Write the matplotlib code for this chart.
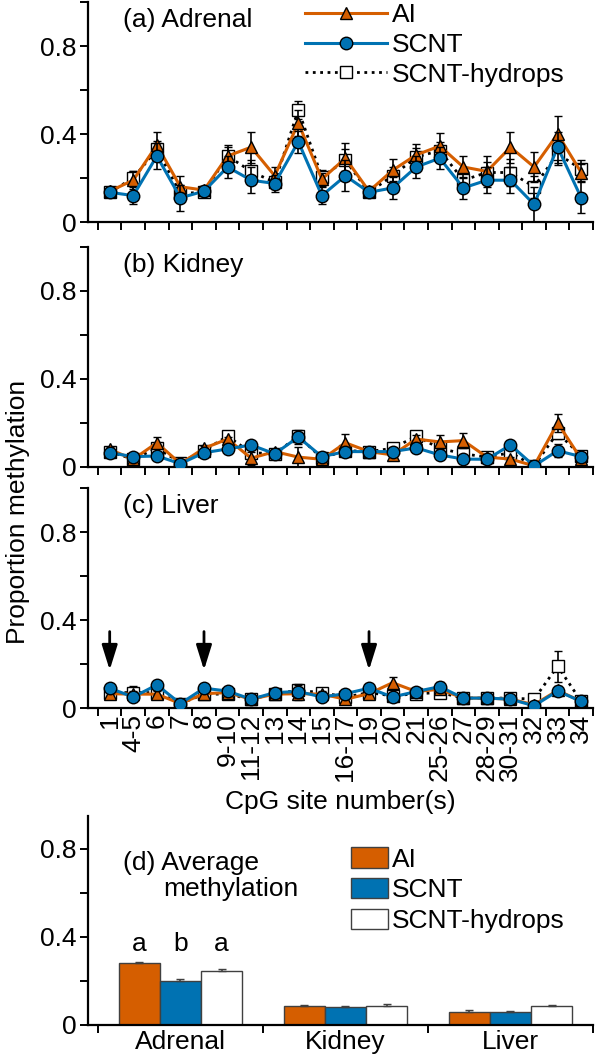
import numpy as np
import matplotlib
matplotlib.use('Agg')
import matplotlib.pyplot as plt
from matplotlib.patches import Patch
from matplotlib.lines import Line2D

plt.rcParams['font.family'] = ['Liberation Sans', 'DejaVu Sans']
plt.rcParams['font.size'] = 19

# CpG sites
sites = ['1', '4-5', '6', '7', '8', '9-10', '11-12', '13', '14', '15', '16-17',
         '19', '20', '21', '25-26', '27', '28-29', '30-31', '32', '33', '34']

# (a) Adrenal
ai_a = [0.14, 0.19, 0.35, 0.16, 0.145, 0.30, 0.34, 0.21, 0.45, 0.195, 0.29,
        0.14, 0.235, 0.305, 0.345, 0.25, 0.23, 0.34, 0.25, 0.40, 0.225]
scnt_a = [0.135, 0.12, 0.30, 0.11, 0.14, 0.25, 0.19, 0.175, 0.365, 0.12, 0.21,
          0.135, 0.155, 0.25, 0.29, 0.155, 0.19, 0.19, 0.08, 0.34, 0.11]
hyd_a = [0.135, 0.20, 0.33, 0.13, 0.135, 0.30, 0.23, 0.18, 0.51, 0.205, 0.28,
         0.135, 0.21, 0.295, 0.325, 0.19, 0.225, 0.225, 0.16, 0.31, 0.24]
ai_a_err = [0.02, 0.04, 0.06, 0.05, 0.02, 0.05, 0.07, 0.04, 0.06, 0.03, 0.07,
            0.015, 0.05, 0.05, 0.06, 0.05, 0.07, 0.07, 0.07, 0.08, 0.04]
scnt_a_err = [0.02, 0.04, 0.06, 0.06, 0.02, 0.05, 0.06, 0.04, 0.05, 0.04, 0.07,
              0.015, 0.05, 0.05, 0.05, 0.05, 0.06, 0.06, 0.08, 0.07, 0.07]
hyd_a_err = [0.02, 0.03, 0.04, 0.04, 0.02, 0.04, 0.05, 0.03, 0.04, 0.03, 0.05,
             0.015, 0.04, 0.04, 0.04, 0.04, 0.05, 0.06, 0.05, 0.05, 0.04]

# (b) Kidney
ai_b = [0.08, 0.035, 0.11, 0.015, 0.085, 0.127, 0.04, 0.07, 0.045, 0.035, 0.11,
        0.07, 0.055, 0.127, 0.114, 0.12, 0.045, 0.036, 0.005, 0.20, 0.036]
scnt_b = [0.065, 0.047, 0.05, 0.015, 0.065, 0.082, 0.10, 0.06, 0.136, 0.047, 0.07,
          0.07, 0.07, 0.087, 0.055, 0.036, 0.035, 0.10, 0.005, 0.074, 0.047]
hyd_b = [0.07, 0.035, 0.086, 0.02, 0.075, 0.14, 0.065, 0.06, 0.14, 0.04, 0.075,
         0.07, 0.085, 0.14, 0.085, 0.06, 0.045, 0.065, 0.005, 0.156, 0.05]
ai_b_err = [0.01, 0.01, 0.025, 0.005, 0.01, 0.01, 0.03, 0.01, 0.045, 0.01, 0.04,
            0.01, 0.02, 0.02, 0.03, 0.035, 0.01, 0.01, 0.005, 0.04, 0.01]
scnt_b_err = [0.01, 0.01, 0.02, 0.005, 0.01, 0.02, 0.02, 0.01, 0.03, 0.01, 0.02,
              0.01, 0.015, 0.02, 0.02, 0.02, 0.01, 0.02, 0.005, 0.03, 0.01]
hyd_b_err = [0.01, 0.01, 0.02, 0.005, 0.01, 0.01, 0.02, 0.01, 0.02, 0.01, 0.02,
             0.01, 0.02, 0.015, 0.02, 0.02, 0.01, 0.02, 0.005, 0.03, 0.01]

# (c) Liver
ai_c = [0.065, 0.063, 0.063, 0.02, 0.065, 0.07, 0.04, 0.063, 0.065, 0.063, 0.04,
        0.065, 0.115, 0.075, 0.085, 0.045, 0.045, 0.04, 0.015, 0.08, 0.03]
scnt_c = [0.09, 0.05, 0.105, 0.02, 0.09, 0.077, 0.04, 0.07, 0.075, 0.05, 0.065,
          0.09, 0.05, 0.075, 0.097, 0.045, 0.045, 0.04, 0.01, 0.077, 0.03]
hyd_c = [0.07, 0.07, 0.07, 0.02, 0.063, 0.063, 0.04, 0.065, 0.08, 0.07, 0.05,
         0.07, 0.055, 0.065, 0.07, 0.045, 0.045, 0.045, 0.04, 0.19, 0.03]
ai_c_err = [0.01, 0.015, 0.015, 0.005, 0.01, 0.01, 0.01, 0.01, 0.03, 0.015, 0.015,
            0.01, 0.025, 0.01, 0.02, 0.005, 0.005, 0.005, 0.01, 0.02, 0.005]
scnt_c_err = [0.01, 0.02, 0.02, 0.005, 0.01, 0.01, 0.01, 0.01, 0.03, 0.02, 0.015,
              0.01, 0.01, 0.01, 0.02, 0.005, 0.005, 0.005, 0.01, 0.02, 0.005]
hyd_c_err = [0.01, 0.03, 0.03, 0.005, 0.01, 0.01, 0.01, 0.01, 0.03, 0.02, 0.015,
             0.01, 0.01, 0.01, 0.02, 0.005, 0.005, 0.01, 0.02, 0.07, 0.005]
arrow_sites = ['1', '8', '19']

# (d) average methylation
tissues = ['Adrenal', 'Kidney', 'Liver']
ai_d = [0.28, 0.085, 0.06]
scnt_d = [0.20, 0.08, 0.06]
hyd_d = [0.245, 0.085, 0.085]
ai_d_err = [0.005, 0.004, 0.006]
scnt_d_err = [0.008, 0.007, 0.005]
hyd_d_err = [0.01, 0.01, 0.008]
sig_letters = ['a', 'b', 'a']

orange = '#D55E00'
blue = '#0072B2'

fig = plt.figure(figsize=(6, 10.61), dpi=100)
H = 1061.0
left, width = 88 / 600, (593 - 88) / 600
ph = 220 / H


def style_axes(ax):
    ax.spines['top'].set_visible(False)
    ax.spines['right'].set_visible(False)
    ax.spines['left'].set_linewidth(1.6)
    ax.spines['bottom'].set_linewidth(1.6)
    ax.tick_params(direction='out', length=6, width=1.4, pad=2)
    ax.tick_params(which='minor', length=0)


def line_panel(ax, ai, ai_e, sc, sc_e, hy, hy_e, title, show_labels):
    x = np.arange(len(sites))
    ax.errorbar(x, hy, yerr=hy_e, color='black', ls=':', lw=2, marker='s',
                ms=9, mfc='white', mec='black', mew=1, ecolor='black',
                elinewidth=1.2, capsize=3, capthick=1.2, zorder=2)
    ax.errorbar(x, ai, yerr=ai_e, color=orange, lw=2.2, marker='^',
                ms=9, mfc=orange, mec='black', mew=1, ecolor='black',
                elinewidth=1.2, capsize=3, capthick=1.2, zorder=3)
    ax.errorbar(x, sc, yerr=sc_e, color=blue, lw=2.2, marker='o',
                ms=9, mfc=blue, mec='black', mew=1, ecolor='black',
                elinewidth=1.2, capsize=3, capthick=1.2, zorder=4)
    ax.set_xlim(-0.92, 20.5)
    ax.set_ylim(0, 1.0)
    ax.set_yticks([0, 0.2, 0.4, 0.6, 0.8, 1.0])
    ax.set_yticklabels(['0', '', '0.4', '', '0.8', ''])
    ax.set_xticks(np.arange(-0.5, 21, 1))
    ax.set_xticklabels([])
    ax.set_xticks(x, minor=True)
    if show_labels:
        ax.set_xticklabels(sites, minor=True, rotation=90)
    style_axes(ax)
    ax.tick_params(axis='x', which='minor', pad=4)
    ax.text(0.07, 0.92, title, transform=ax.transAxes, ha='left', va='center')


ax_a = fig.add_axes([left, 1 - 222 / H, width, ph])
ax_b = fig.add_axes([left, 1 - 467 / H, width, ph])
ax_c = fig.add_axes([left, 1 - 708 / H, width, ph])

line_panel(ax_a, ai_a, ai_a_err, scnt_a, scnt_a_err, hyd_a, hyd_a_err, '(a) Adrenal', False)
line_panel(ax_b, ai_b, ai_b_err, scnt_b, scnt_b_err, hyd_b, hyd_b_err, '(b) Kidney', False)
line_panel(ax_c, ai_c, ai_c_err, scnt_c, scnt_c_err, hyd_c, hyd_c_err, '(c) Liver', True)

handles = [Line2D([], [], color=orange, lw=2.2, marker='^', ms=9, mfc=orange, mec='black'),
           Line2D([], [], color=blue, lw=2.2, marker='o', ms=9, mfc=blue, mec='black'),
           Line2D([], [], color='black', lw=2, ls=':', marker='s', ms=9, mfc='white', mec='black')]
ax_a.legend(handles, ['AI', 'SCNT', 'SCNT-hydrops'], loc='upper left',
            bbox_to_anchor=(0.43, 0.995), frameon=False, handlelength=3.1,
            handletextpad=0.2, labelspacing=0.22, borderpad=0, borderaxespad=0)

for s in arrow_sites:
    i = sites.index(s)
    ax_c.annotate('', xy=(i, 0.16), xytext=(i, 0.36),
                  arrowprops=dict(arrowstyle='-|>,head_width=0.25,head_length=0.8',
                                  color='black', lw=2))

fig.text(0.567, 1 - 802 / H, 'CpG site number(s)', ha='center', va='center')
fig.text(0.03, 1 - 512 / H, 'Proportion methylation', rotation=90, ha='center', va='center')

# (d) bars
ax_d = fig.add_axes([left, 1 - 1025 / H, width, 0.95 * ph])
xg = np.arange(len(tissues))
bw = 0.25
ekw = dict(ecolor='#404040', capsize=3, elinewidth=1.2)
ax_d.bar(xg - bw, ai_d, bw, yerr=[np.zeros(3), ai_d_err], color=orange,
         edgecolor='#404040', lw=1, error_kw=ekw)
ax_d.bar(xg, scnt_d, bw, yerr=[np.zeros(3), scnt_d_err], color=blue,
         edgecolor='#404040', lw=1, error_kw=ekw)
ax_d.bar(xg + bw, hyd_d, bw, yerr=[np.zeros(3), hyd_d_err], color='white',
         edgecolor='#404040', lw=1, error_kw=ekw)
for k, letter in enumerate(sig_letters):
    ax_d.text(xg[0] + (k - 1) * bw, 0.37, letter, ha='center', va='center')
ax_d.set_xlim(-0.56, 2.5)
ax_d.set_ylim(0, 0.95)
ax_d.set_yticks([0, 0.2, 0.4, 0.6, 0.8])
ax_d.set_yticklabels(['0', '', '0.4', '', '0.8'])
ax_d.set_xticks([-0.5, 0.5, 1.5, 2.5])
ax_d.set_xticklabels([])
ax_d.set_xticks(xg, minor=True)
ax_d.set_xticklabels(tissues, minor=True)
style_axes(ax_d)
ax_d.text(0.07, 0.775, '(d) Average', transform=ax_d.transAxes, ha='left', va='center')
ax_d.text(0.149, 0.65, 'methylation', transform=ax_d.transAxes, ha='left', va='center')
bar_handles = [Patch(facecolor=orange, edgecolor='#404040'),
               Patch(facecolor=blue, edgecolor='#404040'),
               Patch(facecolor='white', edgecolor='#404040')]
ax_d.legend(bar_handles, ['AI', 'SCNT', 'SCNT-hydrops'], loc='upper left',
            bbox_to_anchor=(0.52, 0.85), frameon=False, handlelength=1.4,
            handleheight=0.8, handletextpad=0.15, labelspacing=0.25,
            borderpad=0, borderaxespad=0)

fig.savefig('out.png', dpi=100)
